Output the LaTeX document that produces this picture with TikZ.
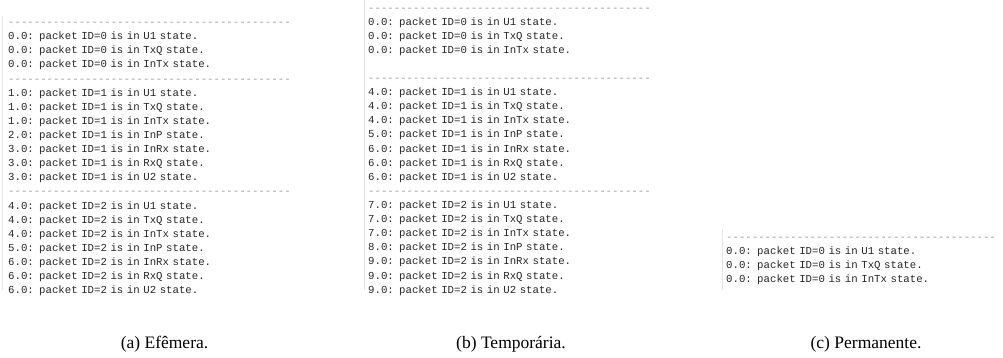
\documentclass[tikz,border=0pt]{standalone}
\usepackage{fontspec}
\setmainfont{Liberation Serif}
\newfontfamily\logfont{Liberation Mono}
\usepackage{xcolor}
\usepackage{tikz}
\usetikzlibrary{positioning}
\tikzset{%
	logline/.style  = {font=\logfont\fontsize{10.7}{13.7}\selectfont, text=black!85,
		inner sep=0pt, text width=290pt, align=left,
		text height=9.8pt, text depth=3.9pt},
	sepline/.style  = {logline, text=black!40},
	shotedge/.style = {draw=black!10, line width=1pt},
	caption/.style  = {font=\fontsize{17.5}{20}\selectfont, anchor=base}
}

\begin{document}
\begin{tikzpicture}[x=1pt, y=-1pt, node distance=0pt]
          \def\sep{--------------------------------------------};
          \def\sepc{-------------------------------------------};
          \def\blank{13.7pt};
        \useasboundingbox (0,0) rectangle (1003,358);

        % screenshot edges
        \draw[shotedge] (2.5,16) -- (2.5,290);
        \draw[shotedge] (364,0) -- (364,290);
        \draw[shotedge] (722,229) -- (722,290);

        % (a) efemera
        \draw
            node [sepline, anchor=north west] at (8,15.7) (a0) {\sep}
            node [logline, below =of a0] (a1) {0.0: packet ID=0 is in U1 state.}
            node [logline, below =of a1] (a2) {0.0: packet ID=0 is in TxQ state.}
            node [logline, below =of a2] (a3) {0.0: packet ID=0 is in InTx state.}
            node [sepline, below =of a3] (a4) {\sep}
            node [logline, below =of a4] (a5) {1.0: packet ID=1 is in U1 state.}
            node [logline, below =of a5] (a6) {1.0: packet ID=1 is in TxQ state.}
            node [logline, below =of a6] (a7) {1.0: packet ID=1 is in InTx state.}
            node [logline, below =of a7] (a8) {2.0: packet ID=1 is in InP state.}
            node [logline, below =of a8] (a9) {3.0: packet ID=1 is in InRx state.}
            node [logline, below =of a9] (a10) {3.0: packet ID=1 is in RxQ state.}
            node [logline, below =of a10] (a11) {3.0: packet ID=1 is in U2 state.}
            node [sepline, below =of a11] (a12) {\sep}
            node [logline, below =of a12] (a13) {4.0: packet ID=2 is in U1 state.}
            node [logline, below =of a13] (a14) {4.0: packet ID=2 is in TxQ state.}
            node [logline, below =of a14] (a15) {4.0: packet ID=2 is in InTx state.}
            node [logline, below =of a15] (a16) {5.0: packet ID=2 is in InP state.}
            node [logline, below =of a16] (a17) {6.0: packet ID=2 is in InRx state.}
            node [logline, below =of a17] (a18) {6.0: packet ID=2 is in RxQ state.}
            node [logline, below =of a18] (a19) {6.0: packet ID=2 is in U2 state.};

        % (b) temporaria
        \draw
            node [sepline, anchor=north west] at (368,1.5) (b0) {\sep}
            node [logline, below =of b0] (b1) {0.0: packet ID=0 is in U1 state.}
            node [logline, below =of b1] (b2) {0.0: packet ID=0 is in TxQ state.}
            node [logline, below =of b2] (b3) {0.0: packet ID=0 is in InTx state.}
            node [sepline, below =\blank of b3] (b4) {\sep}
            node [logline, below =of b4] (b5) {4.0: packet ID=1 is in U1 state.}
            node [logline, below =of b5] (b6) {4.0: packet ID=1 is in TxQ state.}
            node [logline, below =of b6] (b7) {4.0: packet ID=1 is in InTx state.}
            node [logline, below =of b7] (b8) {5.0: packet ID=1 is in InP state.}
            node [logline, below =of b8] (b9) {6.0: packet ID=1 is in InRx state.}
            node [logline, below =of b9] (b10) {6.0: packet ID=1 is in RxQ state.}
            node [logline, below =of b10] (b11) {6.0: packet ID=1 is in U2 state.}
            node [sepline, below =of b11] (b12) {\sep}
            node [logline, below =of b12] (b13) {7.0: packet ID=2 is in U1 state.}
            node [logline, below =of b13] (b14) {7.0: packet ID=2 is in TxQ state.}
            node [logline, below =of b14] (b15) {7.0: packet ID=2 is in InTx state.}
            node [logline, below =of b15] (b16) {8.0: packet ID=2 is in InP state.}
            node [logline, below =of b16] (b17) {9.0: packet ID=2 is in InRx state.}
            node [logline, below =of b17] (b18) {9.0: packet ID=2 is in RxQ state.}
            node [logline, below =of b18] (b19) {9.0: packet ID=2 is in U2 state.};

        % (c) permanente
        \draw
            node [sepline, text width=276pt, anchor=north west] at (726,230.2) (c0) {\sepc}
            node [logline, anchor=north west] at (c0.south west) (c1) {0.0: packet ID=0 is in U1 state.}
            node [logline, below =of c1] (c2) {0.0: packet ID=0 is in TxQ state.}
            node [logline, below =of c2] (c3) {0.0: packet ID=0 is in InTx state.};

        \node [caption] at (164.5,348) (capa) {(a) Efêmera.};
        \node [caption] at (511,348) (capb) {(b) Temporária.};
        \node [caption] at (866,348) (capc) {(c) Permanente.};
    \end{tikzpicture}
\end{document}
